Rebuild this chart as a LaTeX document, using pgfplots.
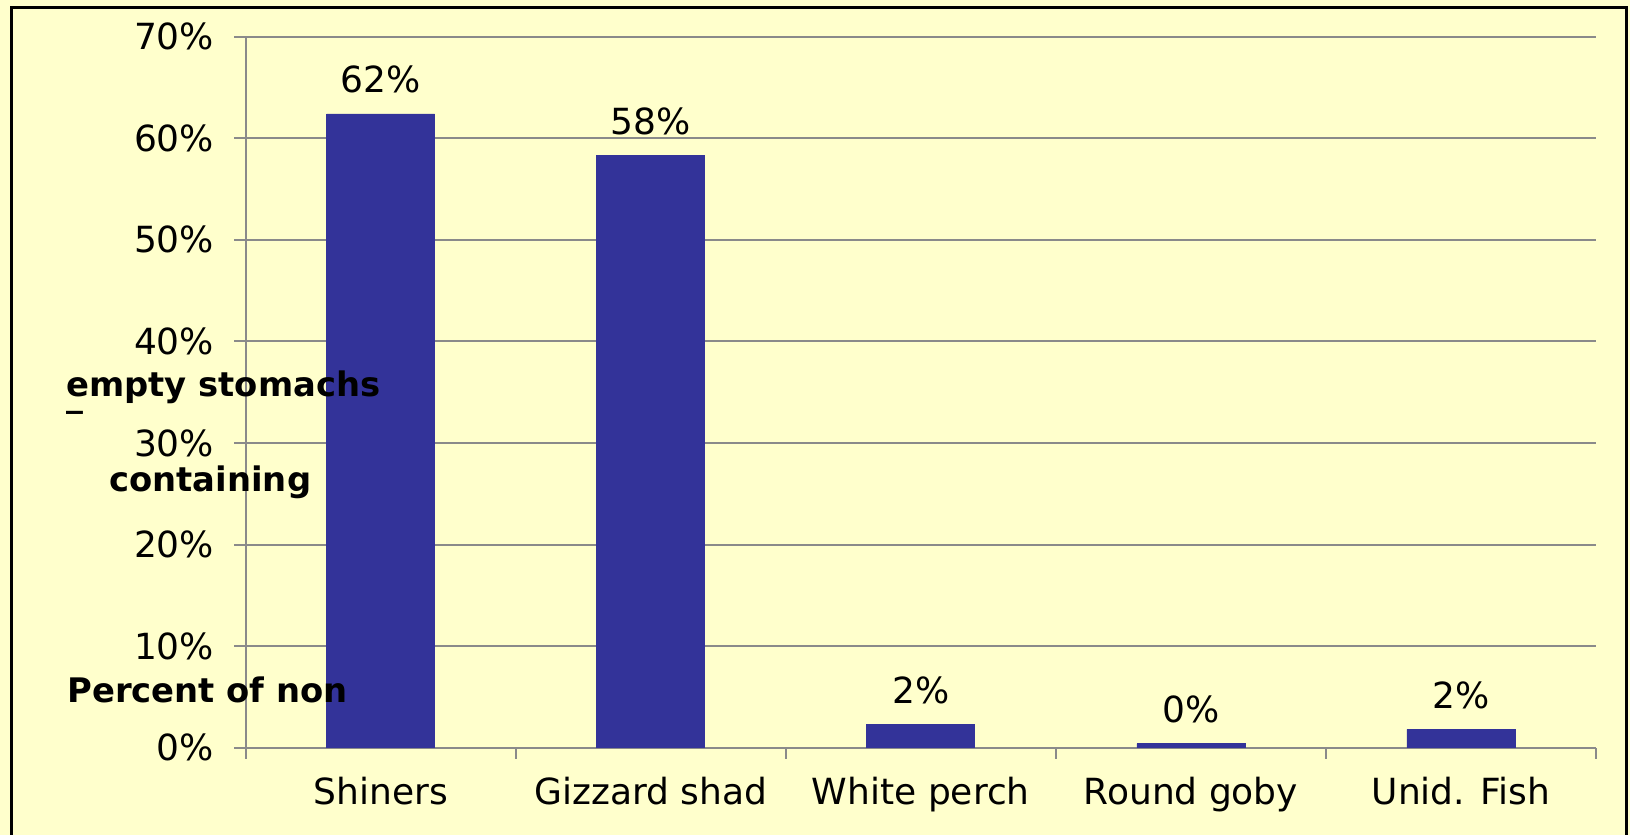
\documentclass[border=0pt]{standalone}
\usepackage{pgfplots}
\pgfplotsset{compat=1.18}
\usepackage{fontspec}
\setmainfont{DejaVu Sans}
\definecolor{bg}{RGB}{255,255,204}
\definecolor{barc}{RGB}{51,51,153}
\definecolor{gridc}{RGB}{138,138,138}
\begin{document}
\begin{tikzpicture}
\useasboundingbox (0,0) rectangle (815pt,417.5pt);
\fill[bg] (0,0) rectangle (815pt,417.5pt);
\draw[line width=1.5pt] (5.5pt,-3pt) -- (5.5pt,413.85pt) -- (813.35pt,413.85pt) -- (813.35pt,-3pt);
\begin{axis}[
  at={(122.85pt,43.65pt)}, anchor=south west,
  scale only axis, width=675.15pt, height=355.5pt,
  xmin=-0.5, xmax=4.5, ymin=0, ymax=70,
  axis lines=left, axis line style={-, draw=gridc, line width=1pt},
  ymajorgrids, grid style={draw=gridc, line width=1pt},
  tick align=outside, major tick length=5.6pt,
  tick style={draw=gridc, line width=1pt},
  ytick={0,10,...,70},
  /pgf/number format/assume math mode=true,
  yticklabel={\pgfmathprintnumber{\tick}\%},
  yticklabel style={font=\fontsize{18pt}{21.6pt}\selectfont, inner sep=0pt, xshift=-10pt},
  xtick={-0.5,0.5,1.5,2.5,3.5,4.5}, xticklabels={},
  extra x ticks={0,1,2,3,4},
  extra x tick labels={Shiners,Gizzard shad,White perch,Round goby,Unid. Fish},
  extra x tick style={major tick length=0pt},
  xticklabel style={font=\fontsize{18pt}{21.6pt}\selectfont, inner sep=0pt, yshift=-14.5pt},
  ybar, bar width=0.4,
  nodes near coords={\pgfmathprintnumber[fixed,precision=0]{\pgfplotspointmeta}\%},
  every node near coord/.append style={font=\fontsize{18pt}{21.6pt}\selectfont, inner sep=0pt, anchor=south, yshift=10pt, black},
]
\addplot[fill=barc, draw=barc] coordinates {(0,62.4) (1,58.3) (2,2.3) (3,0.4) (4,1.8)};
\end{axis}
\node[anchor=base west, inner sep=0pt, font=\fontsize{16.9pt}{20pt}\selectfont\bfseries] at (33pt,219pt) {empty stomachs};
\node[anchor=base west, inner sep=0pt, font=\fontsize{16.9pt}{20pt}\selectfont\bfseries] at (54.5pt,171.65pt) {containing};
\node[anchor=base west, inner sep=0pt, font=\fontsize{16.9pt}{20pt}\selectfont\bfseries] at (33.5pt,66.35pt) {Percent of non};
\node[anchor=base west, inner sep=0pt, font=\fontsize{16.9pt}{20pt}\selectfont\bfseries] at (33pt,214pt) {\_};
\end{tikzpicture}
\end{document}
